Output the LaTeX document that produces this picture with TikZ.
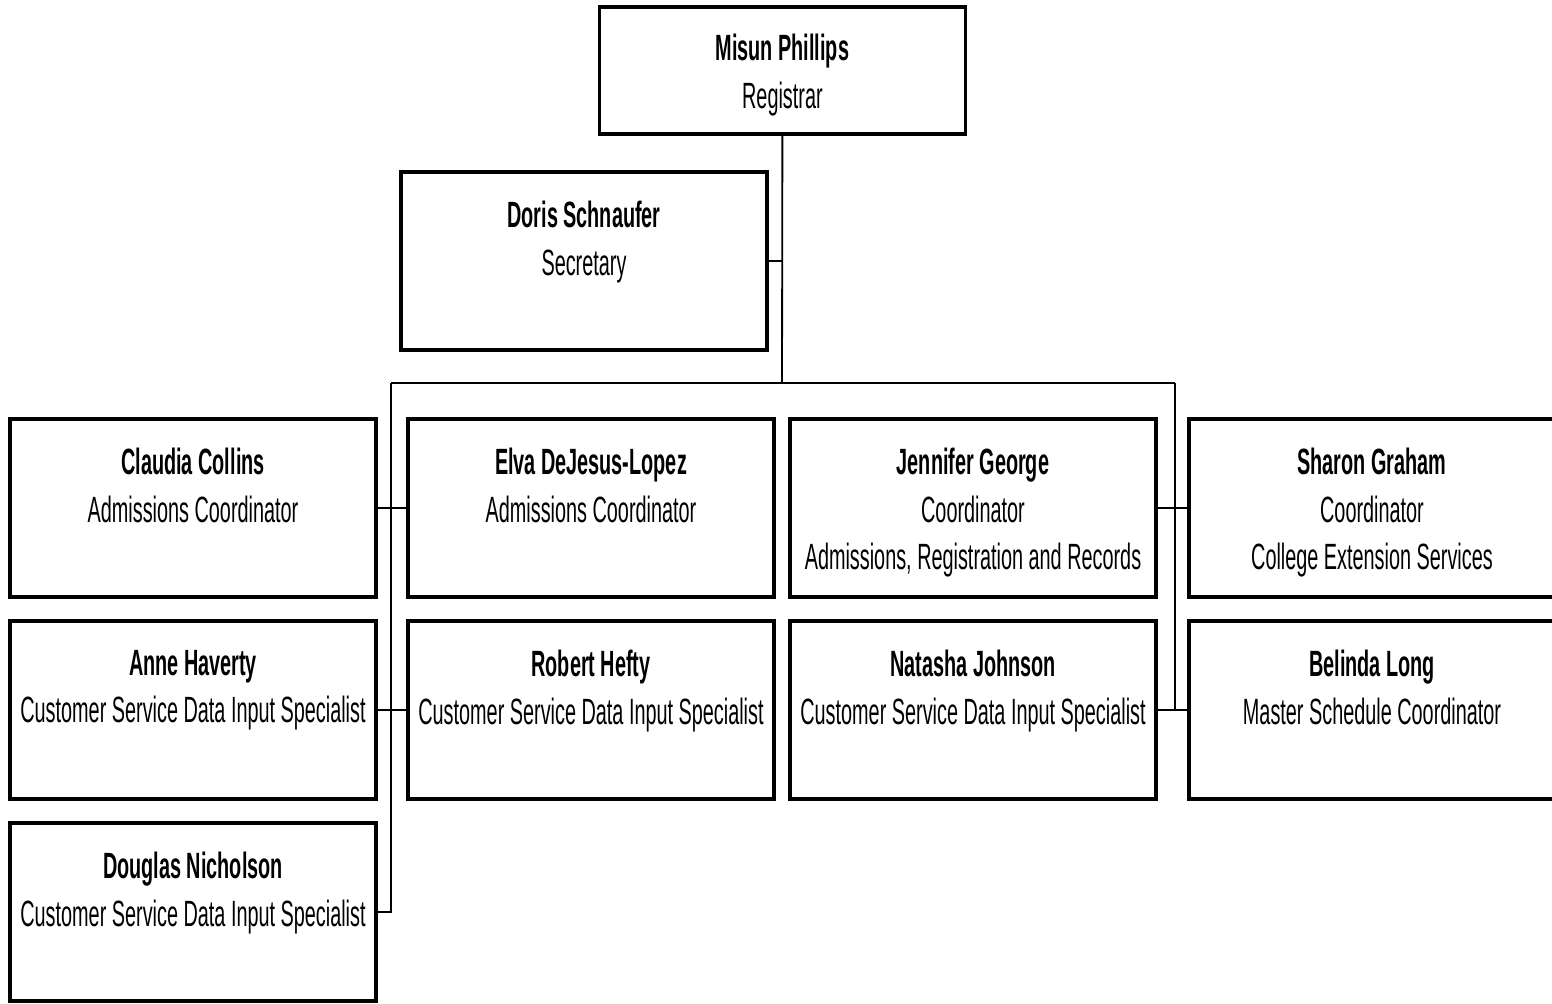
\documentclass[tikz,border=0pt]{standalone}
\usepackage{fontspec}
\setmainfont{Liberation Sans}[FakeStretch=0.543]
\usepackage{tikz}
\usetikzlibrary{positioning}

\begin{document}
\begin{tikzpicture}[
    person box/.style={
        draw=black,
        line width=2.6pt,
        fill=white,
        minimum width=9.15cm,
        minimum height=4.45cm,
        inner sep=0pt
    },
    head box/.style={
        person box,
        minimum height=3.175cm
    },
    person text/.style={
        anchor=north,
        align=center,
        inner sep=0pt,
        font=\fontsize{26}{34}\selectfont
    },
    link/.style={draw=black, line width=1.3pt}
]

% Page frame
\useasboundingbox (0,0) rectangle (38.8,-25.075);

% Column and row positions
\def\colA{4.825}
\def\colB{14.775}
\def\colC{24.325}
\def\colD{34.3}
\def\rowA{-12.7}
\def\rowB{-17.75}
\def\rowC{-22.8}
\def\txtoff{-0.76cm}

% Registrar
\node[head box] (reg) at (19.56, -1.76) {};
\node[person text] (regt) at ([yshift=-0.72cm]reg.north) {\textbf{Misun Phillips}\\Registrar};

% Secretary
\node[person box] (sec) at (14.6, -6.525) {};
\node[person text] (sect) at ([yshift=\txtoff]sec.north) {\textbf{Doris Schnaufer}\\Secretary};

% Row 1
\node[person box] (claudia) at (\colA, \rowA) {};
\node[person text] (claudiat) at ([yshift=\txtoff]claudia.north) {\textbf{Claudia Collins}\\Admissions Coordinator};

\node[person box] (elva) at (\colB, \rowA) {};
\node[person text] (elvat) at ([yshift=\txtoff]elva.north) {\textbf{Elva DeJesus-Lopez}\\Admissions Coordinator};

\node[person box] (jennifer) at (\colC, \rowA) {};
\node[person text] (jennifert) at ([yshift=\txtoff]jennifer.north) {\textbf{Jennifer George}\\Coordinator\\Admissions, Registration and Records};

\node[person box] (sharon) at (\colD, \rowA) {};
\node[person text] (sharont) at ([yshift=\txtoff]sharon.north) {\textbf{Sharon Graham}\\Coordinator\\College Extension Services};

% Row 2
\node[person box] (anne) at (\colA, \rowB) {};
\node[person text] (annet) at ([yshift=\txtoff]anne.north) {\textbf{Anne Haverty}\\Customer Service Data Input Specialist};

\node[person box] (robert) at (\colB, \rowB) {};
\node[person text] (robertt) at ([yshift=\txtoff]robert.north) {\textbf{Robert Hefty}\\Customer Service Data Input Specialist};

\node[person box] (natasha) at (\colC, \rowB) {};
\node[person text] (natashat) at ([yshift=\txtoff]natasha.north) {\textbf{Natasha Johnson}\\Customer Service Data Input Specialist};

\node[person box] (belinda) at (\colD, \rowB) {};
\node[person text] (belindat) at ([yshift=\txtoff]belinda.north) {\textbf{Belinda Long}\\Master Schedule Coordinator};

% Row 3
\node[person box] (douglas) at (\colA, \rowC) {};
\node[person text] (douglast) at ([yshift=\txtoff]douglas.north) {\textbf{Douglas Nicholson}\\Customer Service Data Input Specialist};

% Bus coordinates
\coordinate (bus) at (19.55, -9.575);
\coordinate (busL) at (9.775, -9.575);
\coordinate (busR) at (29.375, -9.575);

% Connectors
\draw[link] (reg.south) -- (bus);
\draw[link] (sec.east) -- (sec.east -| bus);
\draw[link] (busL) -- (busR);
\draw[link] (busL) |- (douglas.east);
\draw[link] (busR) -- (busR |- natasha.east);
\draw[link] (claudia.east) -- (elva.west);
\draw[link] (anne.east) -- (robert.west);
\draw[link] (jennifer.east) -- (sharon.west);
\draw[link] (natasha.east) -- (belinda.west);

\end{tikzpicture}
\end{document}
